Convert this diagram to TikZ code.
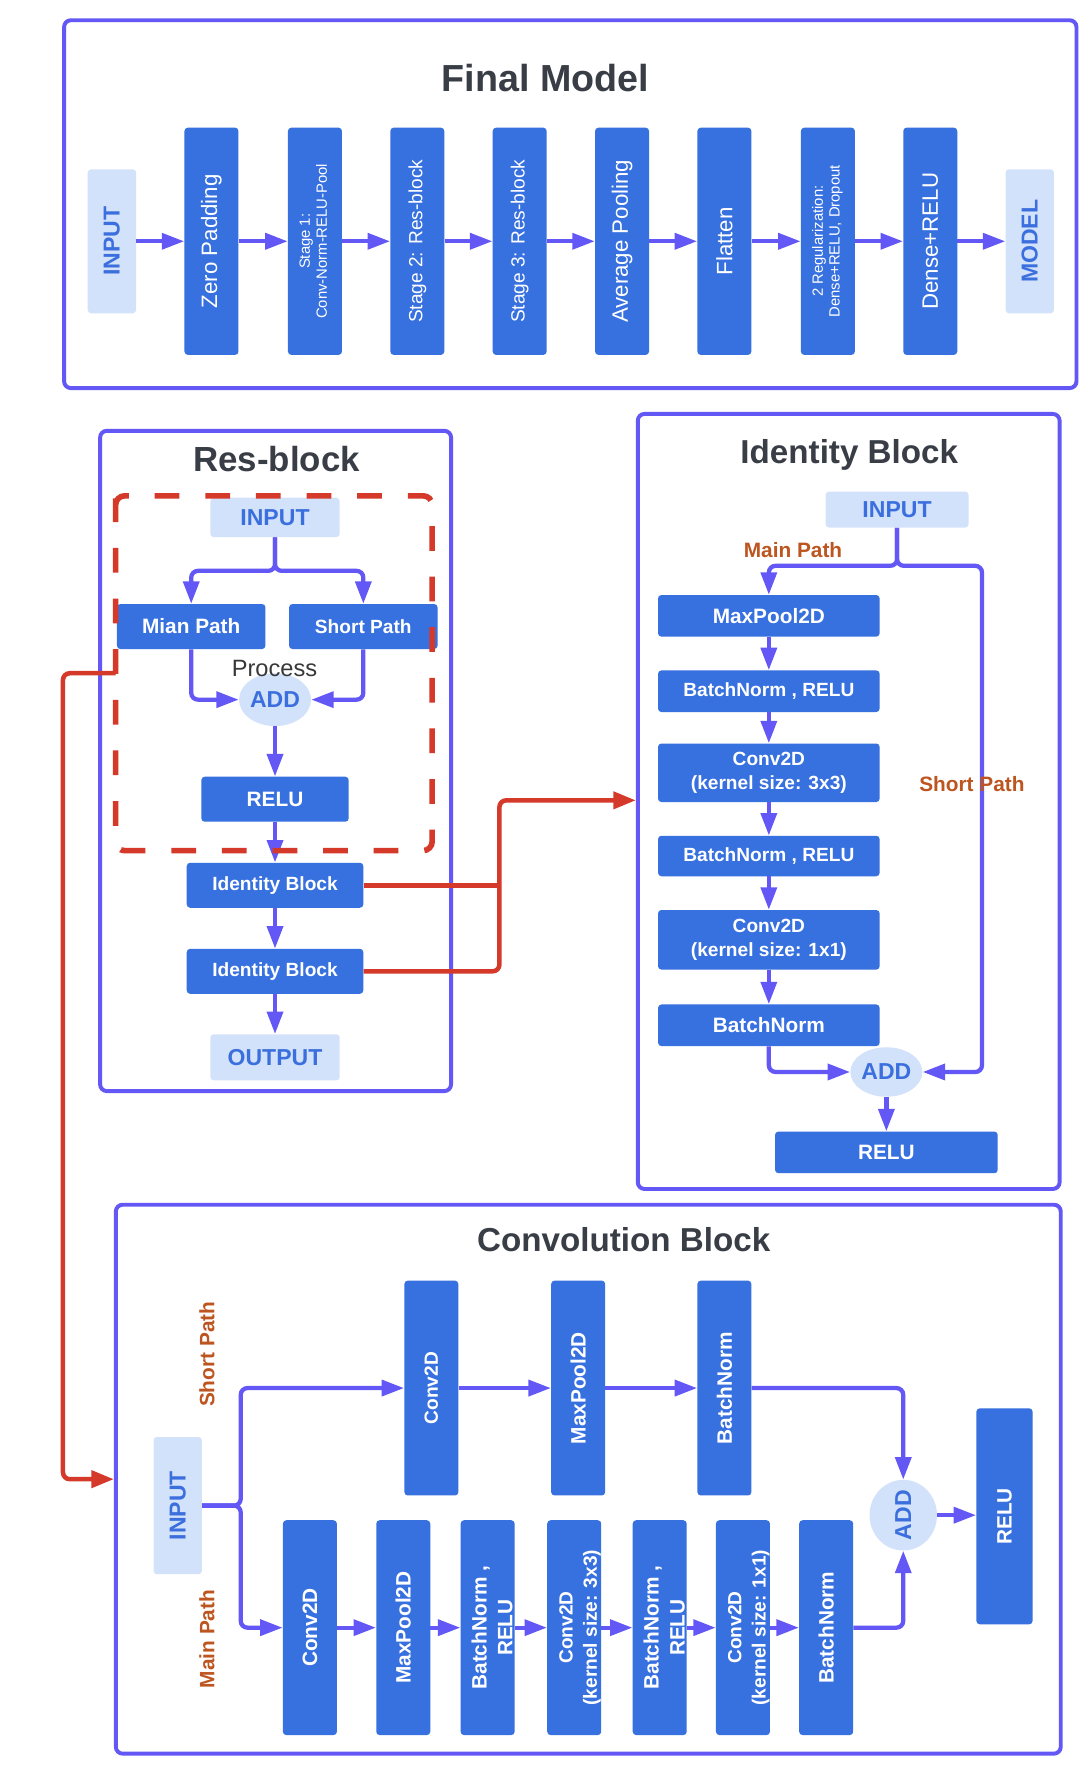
\documentclass[tikz,border=0pt]{standalone}
\usepackage{fontspec}
\setmainfont{Liberation Sans}
\usetikzlibrary{arrows.meta,shapes.geometric}
\definecolor{purp}{HTML}{6358F5}
\definecolor{boxblue}{HTML}{3770DF}
\definecolor{lightfill}{HTML}{D3E2FB}
\definecolor{txtblue}{HTML}{3B6FDE}
\definecolor{redc}{HTML}{D4392A}
\definecolor{orng}{HTML}{BD5520}
\definecolor{ttlgray}{HTML}{393E46}
\newcommand{\vt}[1]{\rotatebox{90}{#1}}
\newcommand{\vtt}[2]{\rotatebox{90}{\begin{tabular}{@{}c@{}}#1\\#2\end{tabular}}}
\newcommand{\fs}[2]{\fontsize{#1}{#2}\selectfont}
\begin{document}
\begin{tikzpicture}[x=1pt,y=-1pt,
  grpframe/.style={draw=purp, line width=3.5pt, rounded corners=6pt, inner sep=0pt},
  blk/.style={fill=boxblue, text=white, rounded corners=3pt, inner sep=0pt, font=\bfseries\fs{18.5}{22}, align=center},
  lgt/.style={fill=lightfill, text=txtblue, rounded corners=3pt, inner sep=0pt, font=\bfseries\fs{20.5}{24}},
  ttl/.style={text=ttlgray, font=\bfseries\fs{31}{36}},
  arr/.style={draw=purp, line width=3.8pt, -{Triangle[length=20pt,width=14pt]}, rounded corners=6pt},
  redl/.style={draw=redc, line width=4pt, rounded corners=6pt},
  redarr/.style={redl, -{Triangle[length=20pt,width=15pt]}},
  orl/.style={text=orng, font=\bfseries\fs{18.5}{22}},
  addn/.style={ellipse, fill=lightfill, text=txtblue, inner sep=0pt, font=\bfseries\fs{20.5}{24}},
  fbox/.style={blk, minimum width=48pt, minimum height=202pt, font=\fs{19.8}{23}},
  tbox/.style={blk, minimum width=48pt, minimum height=191pt},
  ibox/.style={blk, minimum width=197pt},
  dashline/.style={draw=redc, line width=5pt, dash pattern=on 22pt off 23pt, rounded corners=8pt},
]
\fill[white] (0,0) rectangle (967,1570);
\useasboundingbox (0,0) rectangle (967,1570);

% ================= Final Model =================
\node[grpframe, minimum width=900pt, minimum height=327pt] (fmf) at (507,181.5) {};
\node[ttl, font=\bfseries\fs{33.5}{38}] (fmt) at (485,69) {Final Model};
\node[lgt, minimum width=43pt, minimum height=128pt] (f0) at (99.5,214.5) {\vt{INPUT}};
\node[fbox] (f1) at (188,214.5) {\vt{Zero Padding}};
\node[fbox, font=\fs{13.2}{15}] (f2) at (280,214.5) {\vtt{Stage 1:}{Conv-Norm-RELU-Pool}};
\node[fbox, font=\fs{17}{20}] (f3) at (371,214.5) {\vt{Stage 2: Res-block}};
\node[fbox, font=\fs{17}{20}] (f4) at (462,214.5) {\vt{Stage 3: Res-block}};
\node[fbox] (f5) at (553,214.5) {\vt{Average Pooling}};
\node[fbox] (f6) at (644,214.5) {\vt{Flatten}};
\node[fbox, font=\fs{13.2}{15}] (f7) at (736,214.5) {\vtt{2 Regularization:}{Dense+RELU, Dropout}};
\node[fbox] (f8) at (827,214.5) {\vt{Dense+RELU}};
\node[lgt, minimum width=43pt, minimum height=128pt] (f9) at (915.5,214.5) {\vt{MODEL}};
\foreach \a/\b in {f0/f1,f1/f2,f2/f3,f3/f4,f4/f5,f5/f6,f6/f7,f7/f8,f8/f9}
  \draw[arr] (\a.east) -- (\b.west);

% ================= Res-block =================
\node[grpframe, minimum width=312pt, minimum height=587pt] (rbf) at (245,676.5) {};
\node[ttl] (rbt) at (246,408) {Res-block};
\node[lgt, minimum width=115pt, minimum height=35pt] (rin) at (244.5,460) {INPUT};
\coordinate (rfk) at (244.5,507.5);
\node[blk, minimum width=132pt, minimum height=40pt] (mian) at (170,557) {Mian Path};
\node[blk, minimum width=132pt, minimum height=40pt, font=\bfseries\fs{17}{20}] (rshort) at (323,557) {Short Path};
\node[addn, minimum width=64pt, minimum height=47pt] (radd) at (244.5,622) {ADD};
\node[text=black!78, font=\fs{21}{24}] (proc) at (244,594) {Process};
\node[blk, minimum width=131pt, minimum height=40pt] (rrelu) at (244.5,710.5) {RELU};
\node[blk, minimum width=157pt, minimum height=40pt, font=\bfseries\fs{17}{20}] (ib1) at (244.5,787) {Identity Block};
\node[blk, minimum width=157pt, minimum height=40pt, font=\bfseries\fs{17}{20}] (ib2) at (244.5,863.5) {Identity Block};
\node[lgt, minimum width=115pt, minimum height=41pt] (rout) at (244.5,940) {OUTPUT};

\draw[arr] (rin.south) -- (rfk) -| (mian.north);
\draw[arr] (rin.south) -- (rfk) -| (rshort.north);
\draw[arr] (mian.south) |- (radd.west);
\draw[arr] (rshort.south) |- (radd.east);
\draw[arr] (radd.south) -- (rrelu.north);
\draw[arr] (rrelu.south) -- (ib1.north);
\draw[arr] (ib1.south) -- (ib2.north);
\draw[arr] (ib2.south) -- (rout.north);

\node[minimum width=281pt, minimum height=315pt, inner sep=0pt] (dsh) at (243.5,598.5) {};
\draw[dashline] (dsh.west |- 0,451) -- (dsh.north west) -- (dsh.north east)
  -- (dsh.south east) -- (dsh.south west) -- cycle;

% ================= Identity Block =================
\node[grpframe, minimum width=375pt, minimum height=689pt] (idf) at (754.5,712.5) {};
\node[ttl, font=\bfseries\fs{29.5}{34}] (idt) at (755,404) {Identity Block};
\node[lgt, minimum width=127pt, minimum height=32pt] (iin) at (797.5,453) {INPUT};
\coordinate (ifk) at (797.5,503);
\node[orl] (imp) at (705,489) {Main Path};
\node[ibox, minimum height=37pt] (i1) at (683.5,547.5) {MaxPool2D};
\node[ibox, minimum height=37pt, font=\bfseries\fs{17}{21}] (i2) at (683.5,614.5) {BatchNorm , RELU};
\node[ibox, minimum height=52pt, font=\bfseries\fs{17}{21}] (i3) at (683.5,687) {Conv2D\\(kernel size: 3x3)};
\node[ibox, minimum height=36pt, font=\bfseries\fs{17}{21}] (i4) at (683.5,761) {BatchNorm , RELU};
\node[ibox, minimum height=53pt, font=\bfseries\fs{17}{21}] (i5) at (683.5,835.5) {Conv2D\\(kernel size: 1x1)};
\node[ibox, minimum height=37pt] (i6) at (683.5,911.5) {BatchNorm};
\node[addn, minimum width=64pt, minimum height=44pt] (iadd) at (788,953) {ADD};
\node[blk, minimum width=198pt, minimum height=37pt] (irelu) at (788,1024.5) {RELU};

\draw[arr] (iin.south) -- (ifk) -| (i1.north);
\draw[arr] (iin.south) -- (ifk) -| (873,953) -- (iadd.east);
\draw[arr] (i1.south) -- (i2.north);
\draw[arr] (i2.south) -- (i3.north);
\draw[arr] (i3.south) -- (i4.north);
\draw[arr] (i4.south) -- (i5.north);
\draw[arr] (i5.south) -- (i6.north);
\draw[arr] (i6.south) |- (iadd.west);
\draw[arr] (iadd.south) -- (irelu.north);
\node[orl] (isp) at (864,697) {Short Path};

% ================= Convolution Block =================
\node[grpframe, minimum width=840pt, minimum height=488pt] (cbf) at (523,1315) {};
\node[ttl, font=\bfseries\fs{29.5}{34}] (cbt) at (554.5,1102) {Convolution Block};
\node[lgt, minimum width=43pt, minimum height=122pt] (cin) at (158,1338.5) {\vt{INPUT}};
\coordinate (cfk) at (214,1338.5);
\node[orl, rotate=90] (csp) at (184,1204) {Short Path};
\node[orl, rotate=90] (cmp) at (184,1457) {Main Path};

\node[tbox, font=\bfseries\fs{17}{20}] (c1) at (383.5,1234) {\vt{Conv2D}};
\node[tbox] (c2) at (514,1234) {\vt{MaxPool2D}};
\node[tbox] (c3) at (644,1234) {\vt{BatchNorm}};

\node[tbox] (m1) at (275.5,1447) {\vt{Conv2D}};
\node[tbox] (m2) at (358.5,1447) {\vt{MaxPool2D}};
\node[tbox, font=\bfseries\fs{18.5}{23}] (m3) at (433.5,1447) {\kern6pt\vtt{BatchNorm ,}{RELU}\kern-6pt};
\node[tbox, font=\bfseries\fs{17}{21.5}] (m4) at (510.5,1447) {\kern5pt\vtt{Conv2D}{(kernel size: 3x3)}\kern-5pt};
\node[tbox, font=\bfseries\fs{18.5}{23}] (m5) at (586.5,1447) {\kern6pt\vtt{BatchNorm ,}{RELU}\kern-6pt};
\node[tbox, font=\bfseries\fs{17}{21.5}] (m6) at (660.5,1447) {\kern5pt\vtt{Conv2D}{(kernel size: 1x1)}\kern-5pt};
\node[tbox] (m7) at (734.5,1447) {\vt{BatchNorm}};

\node[addn, minimum width=60pt, minimum height=62pt] (cadd) at (803,1347) {\vt{ADD}};
\node[blk, minimum width=50pt, minimum height=192pt] (crelu) at (893,1348) {\vt{RELU}};

\draw[arr] (cin.east) -- (cfk) |- (c1.west);
\draw[arr] (cin.east) -- (cfk) |- (m1.west);
\draw[arr] (c1.east) -- (c2.west);
\draw[arr] (c2.east) -- (c3.west);
\draw[arr] (c3.east) -| (cadd.north);
\foreach \a/\b in {m1/m2,m2/m3,m3/m4,m4/m5,m5/m6,m6/m7}
  \draw[arr] (\a.east) -- (\b.west);
\draw[arr] (m7.east) -| (cadd.south);
\draw[arr] (cadd.east) -- (cadd.east -| crelu.west);

% ================= Red connectors =================
\coordinate (rj) at (444,711.5);
\draw[redl] (ib1.east) -- (ib1.east -| rj);
\draw[redarr] (ib2.east) -| (rj) -- (rj -| idf.west);
\draw[redarr] (dsh.west) -| (56,1315) -- (cbf.west);
\end{tikzpicture}
\end{document}
